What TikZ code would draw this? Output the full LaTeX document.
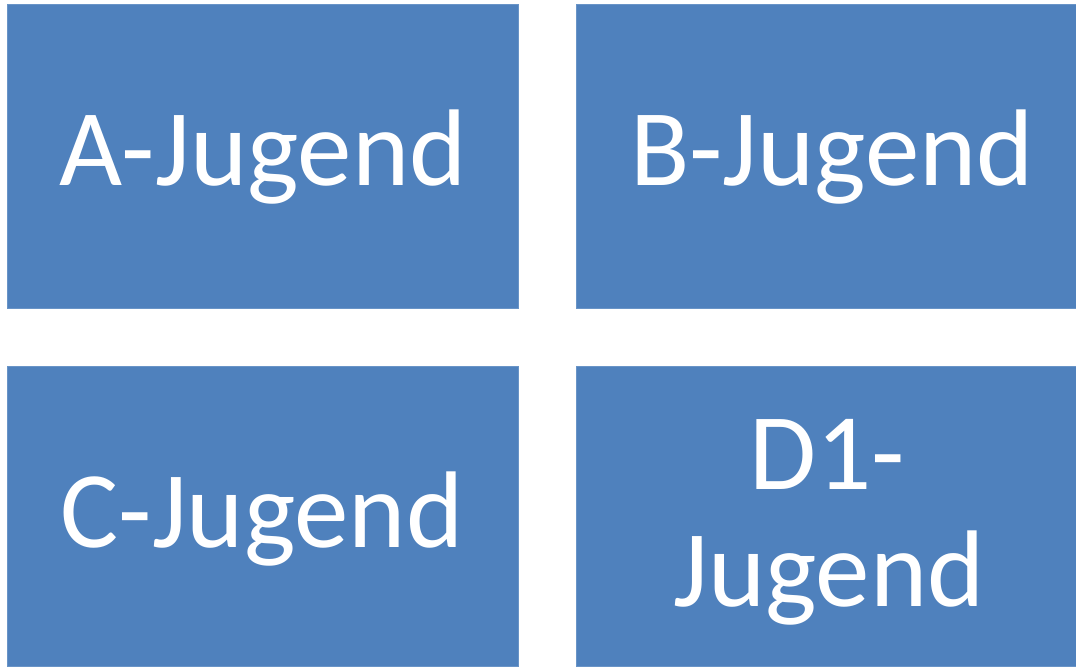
\documentclass[tikz,border=0pt]{standalone}
\usepackage{fontspec}
\setmainfont{Carlito}
\definecolor{boxblue}{HTML}{4F81BD}
\begin{document}
\begin{tikzpicture}[x=1pt,y=1pt,
  jbox/.style={fill=boxblue, draw=boxblue!85!white, line width=0.8pt, inner sep=0pt, text=white,
    font=\fontsize{109}{118}\selectfont, align=center}]
\useasboundingbox (0,0) rectangle (1076,667);
\node[jbox, minimum width=511, minimum height=304] (a) at (263,511) {};
\node[jbox, minimum width=500, minimum height=304] (b) at (826,511) {};
\node[jbox, minimum width=511, minimum height=300] (c) at (263,151) {};
\node[jbox, minimum width=500, minimum height=300] (d) at (826,151) {};
\node[jbox, draw=none, fill=none, anchor=base] (ta) at (263,481) {A-Jugend};
\node[jbox, draw=none, fill=none, anchor=base] (tb) at (832,481) {B-Jugend};
\node[jbox, draw=none, fill=none, anchor=base] (tc) at (262,120) {C-Jugend};
\node[jbox, draw=none, fill=none, anchor=base] (td1) at (827,177) {D1-};
\node[jbox, draw=none, fill=none, anchor=base] (td2) at (829,61) {Jugend};
\end{tikzpicture}
\end{document}
